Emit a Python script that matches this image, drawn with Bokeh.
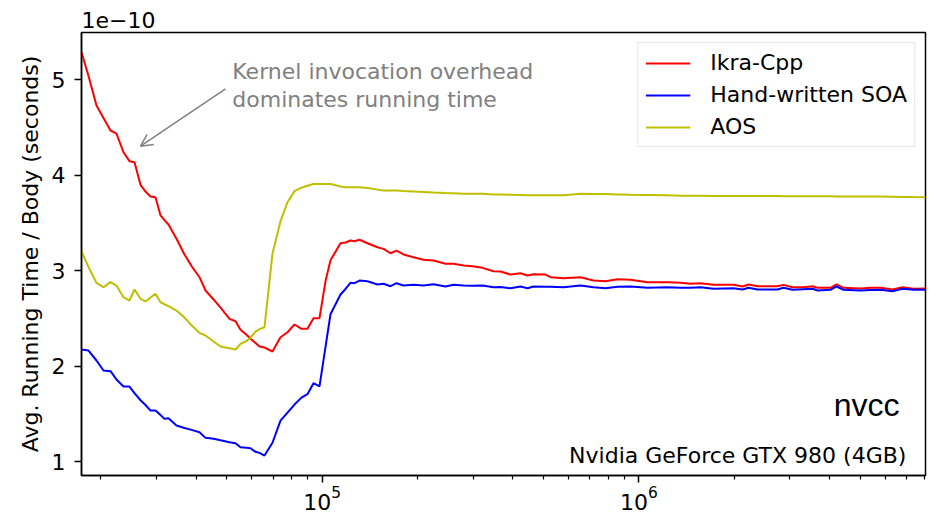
from bokeh.plotting import figure
from bokeh.models import Range1d, FixedTicker, Label, Arrow, OpenHead
from bokeh.embed import file_html
from bokeh.resources import INLINE

# ---- data ----
n_bodies = [17370, 18280, 19370, 20380, 21450, 22400, 23570, 24620, 25540, 26680,
            27670, 28690, 29750, 30860, 31760, 32700, 34660, 36740, 38660, 40970,
            42810, 45380, 47750, 50970, 53240, 55210, 57670, 59370, 61570, 63390,
            65730, 69660, 73840, 77700, 81750, 86020, 89850, 93870, 98060, 102420,
            106220, 114250, 118480, 122860, 126470, 131160, 139020, 149500, 156170, 164330,
            171680, 180640, 194240, 208930, 224670, 245220, 259910, 279440, 298320, 320800,
            347620, 365760, 393290, 423070, 445090, 464900, 507440, 526220, 578500, 654530,
            719290, 785070, 856510, 941470, 1065300, 1231800, 1354200, 1456700, 1566400, 1721600,
            1991500, 2126200, 2221300, 2371300, 2742800, 2864200, 3058800, 3313400, 3537800, 3668800,
            4032000, 4211500, 4431400, 5014100, 5392500, 5799900, 6329900, 6806900, 7374100, 8044500]

# Avg. running time / body, in units of 1e-10 s
ikra_cpp = [5.289, 5.04, 4.731, 4.60, 4.469, 4.435, 4.242, 4.148, 4.137, 3.90,
            3.83, 3.778, 3.771, 3.58, 3.53, 3.485, 3.335, 3.17, 3.05, 2.933,
            2.794, 2.70, 2.615, 2.497, 2.472, 2.382, 2.33, 2.288, 2.245, 2.207,
            2.197, 2.155, 2.305, 2.357, 2.438, 2.393, 2.393, 2.504, 2.504, 2.89,
            3.11, 3.289, 3.296, 3.317, 3.31, 3.325, 3.289, 3.247, 3.230, 3.184,
            3.212, 3.171, 3.142, 3.115, 3.108, 3.073, 3.073, 3.056, 3.048, 3.031,
            2.996, 2.993, 2.961, 2.975, 2.951, 2.965, 2.961, 2.933, 2.923, 2.933,
            2.898, 2.89, 2.912, 2.906, 2.881, 2.881, 2.874, 2.864, 2.870, 2.853,
            2.853, 2.836, 2.857, 2.839, 2.839, 2.853, 2.828, 2.828, 2.839, 2.822,
            2.822, 2.857, 2.822, 2.815, 2.822, 2.822, 2.804, 2.828, 2.812, 2.815]

hand_soa = [2.176, 2.165, 2.061, 1.956, 1.949, 1.862, 1.788, 1.788, 1.72, 1.645,
            1.595, 1.537, 1.537, 1.49, 1.450, 1.457, 1.380, 1.355, 1.335, 1.31,
            1.251, 1.241, 1.225, 1.205, 1.195, 1.153, 1.147, 1.142, 1.105, 1.094,
            1.066, 1.20, 1.432, 1.515, 1.60, 1.672, 1.708, 1.823, 1.79, 2.2,
            2.545, 2.752, 2.81, 2.874, 2.870, 2.898, 2.891, 2.857, 2.864, 2.839,
            2.870, 2.846, 2.853, 2.846, 2.86, 2.836, 2.853, 2.846, 2.843, 2.846,
            2.828, 2.83, 2.818, 2.836, 2.818, 2.836, 2.832, 2.832, 2.828, 2.846,
            2.828, 2.818, 2.832, 2.836, 2.822, 2.828, 2.822, 2.822, 2.828, 2.812,
            2.818, 2.804, 2.822, 2.804, 2.804, 2.822, 2.801, 2.808, 2.812, 2.794,
            2.801, 2.836, 2.801, 2.794, 2.80, 2.801, 2.787, 2.812, 2.801, 2.801]

aos = [3.205, 3.038, 2.874, 2.828, 2.881, 2.846, 2.724, 2.689, 2.804, 2.707,
       2.679, 2.72, 2.759, 2.671, 2.65, 2.63, 2.584, 2.51, 2.43, 2.35,
       2.323, 2.26, 2.207, 2.19, 2.176, 2.236, 2.265, 2.30, 2.364, 2.39,
       2.409, 3.18, 3.52, 3.718, 3.834, 3.87, 3.89, 3.908, 3.908, 3.908,
       3.908, 3.883, 3.876, 3.876, 3.876, 3.876, 3.868, 3.85, 3.841, 3.841,
       3.841, 3.835, 3.83, 3.825, 3.82, 3.815, 3.813, 3.806, 3.806, 3.806,
       3.80, 3.799, 3.797, 3.795, 3.792, 3.792, 3.792, 3.792, 3.792, 3.806,
       3.804, 3.803, 3.80, 3.796, 3.795, 3.79, 3.785, 3.785, 3.785, 3.784,
       3.783, 3.783, 3.783, 3.782, 3.782, 3.781, 3.781, 3.781, 3.781, 3.780,
       3.780, 3.779, 3.779, 3.778, 3.778, 3.778, 3.776, 3.774, 3.772, 3.771]

y_ticks = [1, 2, 3, 4, 5]
x_major_ticks = [1e5, 1e6]
x_minor_ticks = [2e4, 3e4, 4e4, 5e4, 6e4, 7e4, 8e4, 9e4,
                 2e5, 3e5, 4e5, 5e5, 6e5, 7e5, 8e5, 9e5,
                 2e6, 3e6, 4e6, 5e6, 6e6, 7e6, 8e6]

FONT = "DejaVu Sans"
GRAY = "#808080"

p = figure(width=931, height=515, x_axis_type="log",
           x_range=Range1d(17370, 8044500), y_range=Range1d(0.857, 5.495),
           output_backend="svg", toolbar_location=None,
           min_border_left=81, min_border_right=6, min_border_top=32, min_border_bottom=40,
           title="1e\u221210")

p.title.text_font = FONT
p.title.text_font_size = "22px"
p.title.text_font_style = "normal"
p.title.text_color = "black"
p.title.align = "left"
p.title.standoff = 9
p.title.text_line_height = 1.0

p.line(n_bodies, ikra_cpp, line_color="#ff0000", line_width=2, legend_label="Ikra-Cpp")
p.line(n_bodies, hand_soa, line_color="#0000ff", line_width=2, legend_label="Hand-written SOA")
p.line(n_bodies, aos, line_color="#bfbf00", line_width=2, legend_label="AOS")

p.xgrid.visible = False
p.ygrid.visible = False
p.outline_line_color = "black"
p.outline_line_width = 1.5
p.outline_line_alpha = 1.0
p.background_fill_color = "white"

p.xaxis.ticker = FixedTicker(ticks=x_major_ticks, minor_ticks=x_minor_ticks)
p.yaxis.ticker = FixedTicker(ticks=y_ticks, minor_ticks=[])

for ax in (p.xaxis[0], p.yaxis[0]):
    ax.axis_line_width = 1.5
    ax.axis_line_color = "black"
    ax.major_tick_line_color = "black"
    ax.minor_tick_line_color = "black"
    ax.major_tick_line_width = 1.5
    ax.minor_tick_line_width = 1.2
    ax.major_tick_in = 0
    ax.major_tick_out = 7
    ax.minor_tick_in = 0
    ax.minor_tick_out = 4
    ax.major_label_text_font = FONT
    ax.major_label_text_font_size = "22px"
    ax.major_label_text_color = "black"

p.xaxis.major_label_standoff = 3
p.yaxis.major_label_standoff = 9
p.yaxis.axis_label = "Avg. Running Time / Body (seconds)"
p.yaxis.axis_label_text_font = FONT
p.yaxis.axis_label_text_font_size = "22px"
p.yaxis.axis_label_text_font_style = "normal"
p.yaxis.axis_label_text_color = "black"
p.yaxis.axis_label_standoff = 6

lg = p.legend[0]
lg.location = "top_right"
lg.margin = 10
lg.padding = 7
lg.spacing = 7
lg.glyph_width = 45
lg.glyph_height = 22
lg.label_height = 22
lg.label_standoff = 20
lg.label_text_font = FONT
lg.label_text_font_size = "22px"
lg.label_text_color = "black"
lg.border_line_color = "#cccccc"
lg.border_line_width = 1.5
lg.background_fill_alpha = 1.0

p.add_layout(Label(x=52000, y=5.085, text="Kernel invocation overhead",
                   text_font=FONT, text_font_size="22px", text_color=GRAY,
                   text_baseline="alphabetic", text_align="left"))
p.add_layout(Label(x=52000, y=4.79, text="dominates running time",
                   text_font=FONT, text_font_size="22px", text_color=GRAY,
                   text_baseline="alphabetic", text_align="left"))
p.add_layout(Arrow(end=OpenHead(size=12, line_color=GRAY, line_width=1.5),
                   x_start=49510, y_start=4.906, x_end=26680, y_end=4.305,
                   line_color=GRAY, line_width=1.5))

p.add_layout(Label(x=5.24e6, y=1.59, text="nvcc",
                   text_font="Liberation Sans", text_font_size="32px",
                   text_color="black", text_baseline="alphabetic", text_align="center"))
p.add_layout(Label(x=7.0e6, y=1.068, text="Nvidia GeForce GTX 980 (4GB)",
                   text_font=FONT, text_font_size="22px",
                   text_color="black", text_baseline="alphabetic", text_align="right"))

open("out.html", "w").write(file_html(p, INLINE))
